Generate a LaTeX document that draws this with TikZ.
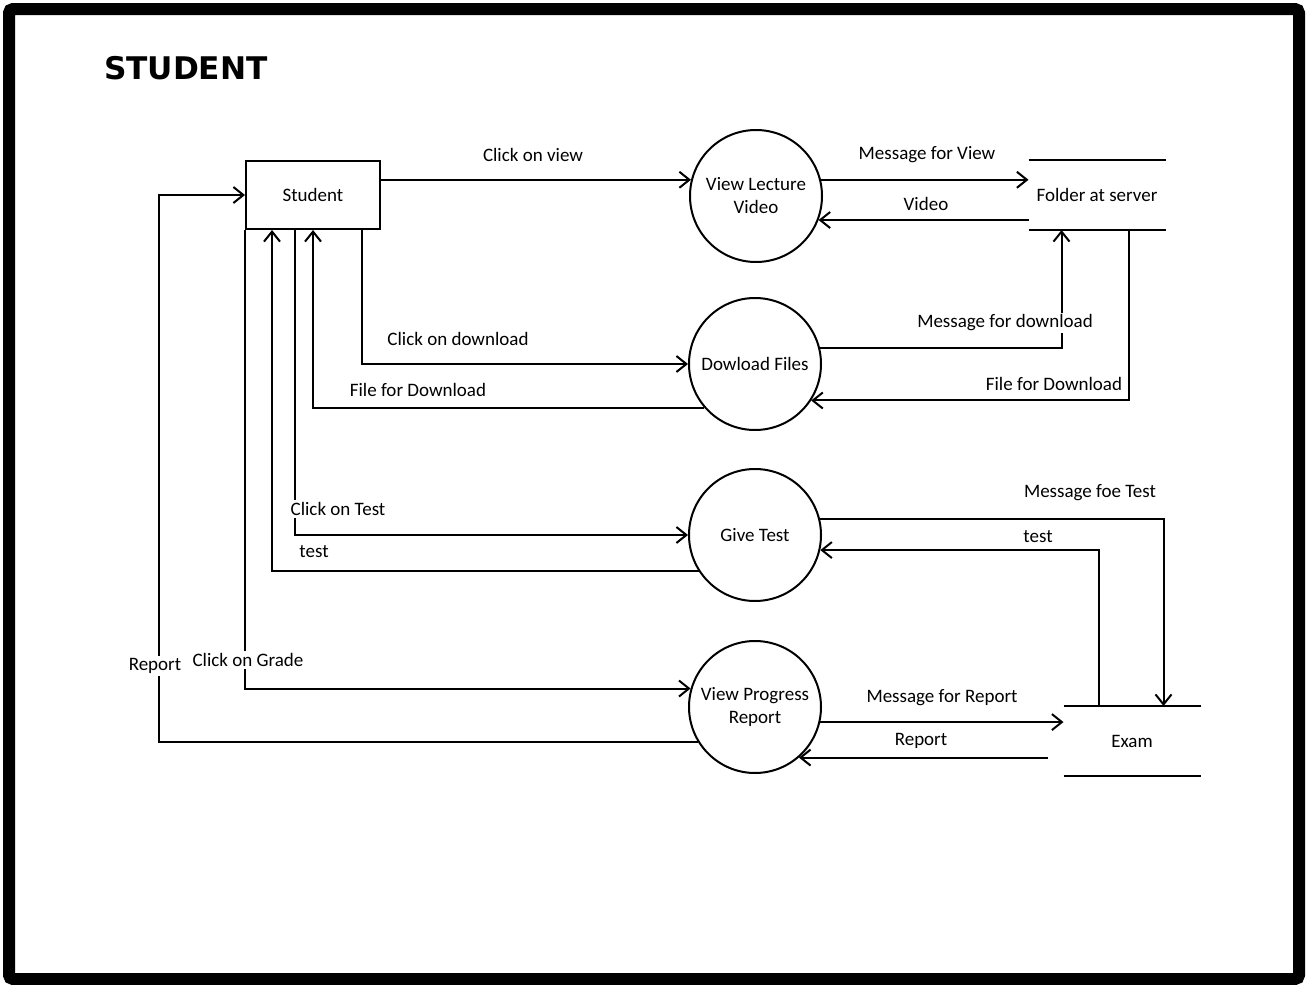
\documentclass[tikz,border=0pt]{standalone}
\usepackage{fontspec}
\setmainfont{Carlito}
\newfontfamily\titlefont{DejaVu Sans}
\usetikzlibrary{arrows.meta,calc}
\begin{document}
\begin{tikzpicture}[x=0.5pt,y=-0.5pt,
  line width=1pt,
  txt/.style={font=\fontsize{9.5}{11.5}\selectfont},
  flow/.style={-{Straight Barb[length=5pt,width=8pt,line width=1pt]}},
  proc/.style={circle,draw,line width=1pt,minimum size=66pt,inner sep=0pt,align=center,txt},
  ent/.style={rectangle,draw,line width=1pt,minimum width=67pt,minimum height=34pt,inner sep=0pt,txt},
  store/.style={rectangle,minimum width=67.5pt,minimum height=34pt,inner sep=0pt,txt},
  lbl/.style={inner sep=1pt,txt},
  wlbl/.style={lbl,fill=white}]
\useasboundingbox (0,0) rectangle (1308,985);
\draw[line width=6pt,rounded corners=2pt] (9,9) rectangle (1299,979);
\node[anchor=west,font=\titlefont\bfseries\fontsize{15.6}{18}\selectfont,inner sep=0pt] (title) at (103,68) {STUDENT};

\node[ent] (student) at (313,195) {Student};
\node[proc] (vlv) at (756,196) {View Lecture\\Video};
\node[proc] (df) at (755,364) {Dowload Files};
\node[proc] (gt) at (755,535) {Give Test};
\node[proc] (vpr) at (755,707) {View Progress\\Report};
\node[store] (folder) at (1097,195) {Folder at server};
\draw (folder.north west) -- (folder.north east);
\draw (folder.south west) -- (folder.south east);
\node[store] (exam) at (1132,741) {Exam};
\draw (exam.north west) -- (exam.north east);
\draw (exam.south west) -- (exam.south east);

\coordinate (sA) at ($(student.south west)+(0,0)$);
\coordinate (sB) at ($(student.south west)+(27,0)$);
\coordinate (sC) at ($(student.south west)+(50,0)$);
\coordinate (sE) at ($(student.south west)+(117,0)$);
\coordinate (fA) at ($(folder.south west)+(33,0)$);
\coordinate (fB) at ($(folder.south west)+(100,0)$);
\coordinate (eA) at ($(exam.north west)+(35,0)$);
\coordinate (eB) at ($(exam.north west)+(100,0)$);
\coordinate (rl) at (159,195);
\coordinate (eR) at ($(exam.west)+(-17,16)$);

% flows
\draw[flow] (student.east |- vlv.166) -- (vlv.166);
\draw[flow] (vlv.14) -- (folder.west |- vlv.14);
\draw[flow] (folder.west |- vlv.-21.3) -- (vlv.-21.3);
\draw[flow] (sE) |- (df.west);
\draw[flow] (df.221.8) -| (student.south);
\draw[flow] (df.14) -| (fA);
\draw[flow] (fB) |- (df.-33.1);
\draw[flow] (sC) |- (gt.west);
\draw[flow] (gt.213.1) -| (sB);
\draw[flow] (gt.14.9) -| (eB);
\draw[flow] (eA) |- (gt.-13.1);
\draw[flow] (sA) |- (vpr.164.2);
\draw[flow] (vpr.211) -| (rl) -- (student.west);
\draw[flow] (vpr.-13.1) -- (exam.west |- vpr.-13.1);
\draw[flow] (eR) -- (vpr.-49.2 -| eR) -- (vpr.-49.2);

% labels
\node[lbl] (l1) at (533,155) {Click on view};
\node[lbl] (l2) at (927,155) {Message for View};
\node[lbl] (l3) at (926,204) {Video};
\node[lbl] (l4) at (458,339) {Click on download};
\node[lbl] (l5) at (418,390) {File for Download};
\node[wlbl] (l6) at (1005,323) {Message for download};
\node[lbl] (l7) at (1054,384) {File for Download};
\node[wlbl] (l8) at (338,509) {Click on Test};
\node[lbl] (l9) at (314,552) {test};
\node[lbl] (l10) at (1090,493) {Message foe Test};
\node[lbl] (l11) at (1038,537) {test};
\node[wlbl] (l12) at (248,660) {Click on Grade};
\node[wlbl] (l13) at (155,666) {Report};
\node[lbl] (l14) at (942,698) {Message for Report};
\node[lbl] (l15) at (921,741) {Report};
\end{tikzpicture}
\end{document}
